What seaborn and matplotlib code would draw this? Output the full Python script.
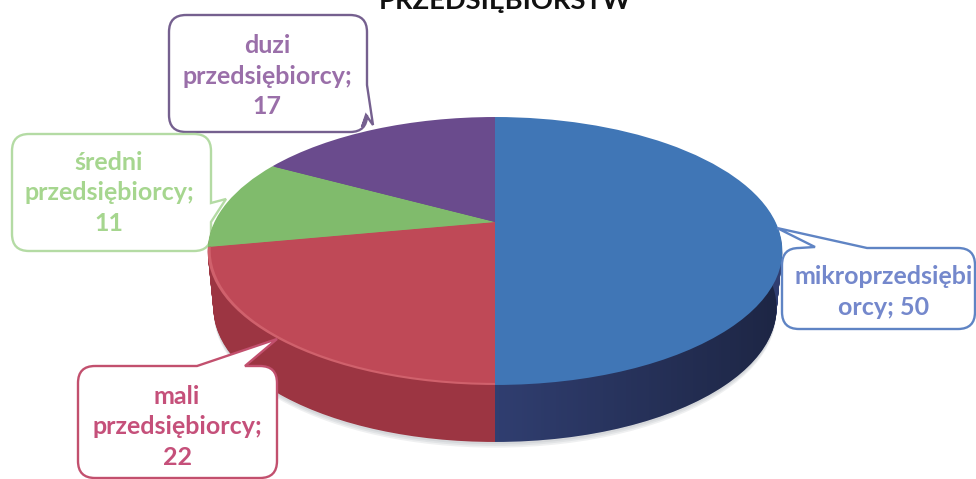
import numpy as np
import seaborn as sns
import matplotlib.pyplot as plt
from matplotlib.patches import PathPatch
from matplotlib.path import Path
from matplotlib.transforms import Transform

# Values
labels = ["mikroprzedsiębi\norcy; 50", "mali\nprzedsiębiorcy;\n22", "średni\nprzedsiębiorcy;\n11", "duzi\nprzedsiębiorcy;\n17"]
values = [50, 22, 11, 17]
top_colors = ["#4076b6", "#bf4957", "#80bb6c", "#6a4b8d"]
rim_colors = ["#4076b6", "#d0616c", "#80bb6c", "#6a4b8d"]
side_colors = ["#303e70", "#9c3542", "#9c3542", "#4f3a6c"]
edge_colors = ["#5f84c4", "#c2506e", "#b4dba4", "#75608f"]
text_colors = ["#7488cc", "#c5507a", "#a6d68f", "#9a6fa9"]
title = "PRZEDSIĘBIORSTW"

sns.set_theme(style="white")
plt.rcParams["font.family"] = ["Lato", "DejaVu Sans"]


class Perspective(Transform):
    # tilted disc: unit circle to pixels, wall moves it down the side wall
    input_dims = 2
    output_dims = 2
    has_inverse = False

    def __init__(self, wall=0.0):
        super().__init__()
        self.wall = wall

    def transform_non_affine(self, xy):
        xy = np.asarray(xy, dtype=float)
        u, v = xy[:, 0], xy[:, 1]
        w = 1 + 0.2164 * v
        x = 495 + 280.5 * (1 - 0.02 * self.wall) * u / w
        y = 222 - 127.7 * v / w + 57 * self.wall
        return np.column_stack([x, y])


def draw_pie(ax, colors, wall=0.0, radius=1.0, zorder=2, alpha=None):
    wedges, _ = ax.pie(values, colors=colors, startangle=90, counterclock=False,
                       radius=radius, wedgeprops={"linewidth": 0, "alpha": alpha})
    tr = Perspective(wall) + ax.transData
    for w in wedges:
        w.set_transform(tr)
        w.set_zorder(zorder)
    return wedges


def callout(ax, box, tail, side, edge, zorder):
    # rounded box, with the tail points spliced into one of its edges
    x0, y0, x1, y1 = box
    r = 17
    verts = [(x0 + r, y0)]
    codes = [Path.MOVETO]
    if side == "top":
        verts += tail
        codes += [Path.LINETO] * len(tail)
    verts += [(x1 - r, y0), (x1, y0), (x1, y0 + r)]
    codes += [Path.LINETO, Path.CURVE3, Path.CURVE3]
    if side == "right":
        verts += tail
        codes += [Path.LINETO] * len(tail)
    verts += [(x1, y1 - r), (x1, y1), (x1 - r, y1)]
    codes += [Path.LINETO, Path.CURVE3, Path.CURVE3]
    verts += [(x0 + r, y1), (x0, y1), (x0, y1 - r), (x0, y0 + r), (x0, y0), (x0 + r, y0)]
    codes += [Path.LINETO, Path.CURVE3, Path.CURVE3, Path.LINETO, Path.CURVE3, Path.CURVE3]
    ax.add_patch(PathPatch(Path(verts, codes), facecolor="white", edgecolor=edge,
                           linewidth=1.7, zorder=zorder))


fig = plt.figure(figsize=(9.76, 4.79), dpi=100)
ax = fig.add_axes([0, 0, 1, 1])

# soft shadow, then the side wall, then the top
for d in [1.1, 1.07, 1.04]:
    draw_pie(ax, ["#808890"] * 4, wall=d, zorder=1, alpha=0.12)
for d in np.linspace(1, 0.02, 60):
    draw_pie(ax, side_colors, wall=d, zorder=2)
draw_pie(ax, rim_colors, zorder=3)
draw_pie(ax, top_colors, radius=0.99, zorder=4)

ax.set_xlim(0, 976)
ax.set_ylim(479, 0)
ax.set_aspect("auto")
ax.axis("off")

# the blue wall gets darker towards the right
shade = np.zeros((1, 100, 4))
shade[0, :, 3] = np.linspace(0, 0.4, 100)
im = ax.imshow(shade, extent=(495, 785, 450, 230), aspect="auto", zorder=2.5)
ax.set_xlim(0, 976)
ax.set_ylim(479, 0)
t = np.radians(np.linspace(0, -90, 50))
front = Perspective(1.0).transform_non_affine(np.column_stack([np.cos(t), np.sin(t)]))
front = np.vstack([[front[0, 0], 230], front, [495, 230]])
im.set_clip_path(PathPatch(Path(front, closed=False), transform=ax.transData))

# callouts
callout(ax, (169, 15, 367, 132), [(367, 85), (373, 125), (366, 115), (362, 127)], "right", edge_colors[3], 1.5)
callout(ax, (12, 134, 211, 251), [(211, 203), (226, 199), (211, 222)], "right", edge_colors[2], 1.5)
callout(ax, (78, 366, 277, 478), [(197, 366), (277, 339), (245, 366)], "top", edge_colors[1], 6)
callout(ax, (782, 248, 975, 329), [(815, 247), (777, 228), (867, 248)], "top", edge_colors[0], 6)

text_pos = [(884, 292), (177, 427), (109, 193), (267, 76)]
for lab, pos, col in zip(labels, text_pos, text_colors):
    ax.text(pos[0], pos[1], lab, color=col, fontsize=18, fontweight="bold",
            ha="center", va="center", linespacing=1.4, zorder=7)

ax.text(505, 9, title, color="#111111", fontsize=19.7, fontweight="bold", ha="center", va="baseline")

fig.savefig("out.png", dpi=100)
